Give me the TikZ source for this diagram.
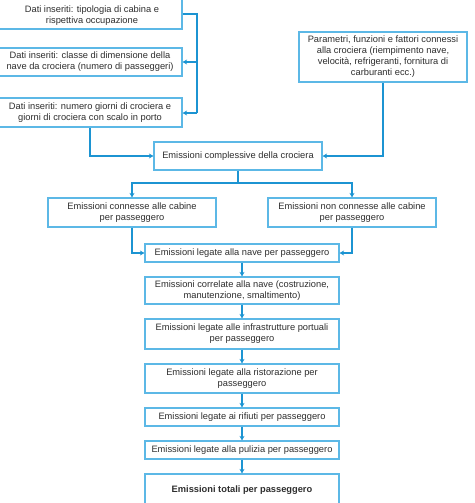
\documentclass[tikz,border=0pt]{standalone}
\usepackage{fontspec}
\setmainfont{Liberation Sans}
\usetikzlibrary{arrows.meta}
\definecolor{boxblue}{HTML}{5CB8E6}
\definecolor{linkblue}{HTML}{1C94D2}
\definecolor{txtgray}{HTML}{2E2E2E}
\tikzset{
  box/.style={draw=boxblue, line width=1.2pt, fill=white, align=center, text=txtgray,
    font=\fontsize{9.3}{11}\selectfont, inner sep=0pt},
  txt/.style={align=center, text=txtgray, font=\fontsize{9.3}{11}\selectfont, inner sep=0pt},
  link/.style={draw=linkblue, line width=2pt},
  arr/.style={link, -{Stealth[length=4.5pt,width=5pt]}},
}
\begin{document}
\begin{tikzpicture}[x=1pt,y=-1pt]
\useasboundingbox (0,0) rectangle (474,503);
\clip (0,0) rectangle (474,503);
% input boxes
\node[box, minimum width=184pt, minimum height=33pt] (b1) at (90,12.5) {};
\node[txt] (b1t) at (92,15.5) {Dati inseriti: tipologia di cabina e\\rispettiva occupazione};
\node[box, minimum width=184pt, minimum height=28pt] (b2) at (90,62) {Dati inseriti: classe di dimensione della\\nave da crociera (numero di passeggeri)};
\node[box, minimum width=184pt, minimum height=29pt] (b3) at (90,112.5) {Dati inseriti: numero giorni di crociera e\\giorni di crociera con scalo in porto};
\node[box, minimum width=168pt, minimum height=50pt] (par) at (383,57) {Parametri, funzioni e fattori connessi\\alla crociera (riempimento nave,\\velocità, refrigeranti, fornitura di\\carburanti ecc.)};
\node[box, minimum width=168pt, minimum height=28pt] (compl) at (238,156) {Emissioni complessive della crociera};
\node[box, minimum width=168pt, minimum height=29pt] (con) at (132,212.5) {Emissioni connesse alle cabine\\per passeggero};
\node[box, minimum width=168pt, minimum height=29pt] (noncon) at (352,212.5) {Emissioni non connesse alle cabine\\per passeggero};
% chain
\node[box, minimum width=194pt, minimum height=18pt] (nave) at (242,253) {Emissioni legate alla nave per passeggero};
\node[box, minimum width=194pt, minimum height=27pt] (corr) at (242,290.5) {Emissioni correlate alla nave (costruzione,\\manutenzione, smaltimento)};
\node[box, minimum width=194pt, minimum height=30pt] (infra) at (242,334) {Emissioni legate alle infrastrutture portuali\\per passeggero};
\node[box, minimum width=194pt, minimum height=29pt] (rist) at (242,378.5) {Emissioni legate alla ristorazione per\\passeggero};
\node[box, minimum width=194pt, minimum height=18pt] (rif) at (242,417) {Emissioni legate ai rifiuti per passeggero};
\node[box, minimum width=194pt, minimum height=18pt] (pul) at (242,450) {Emissioni legate alla pulizia per passeggero};
\node[box, minimum width=194pt, minimum height=32pt] (tot) at (242,490) {\textbf{Emissioni totali per passeggero}};
% connectors
\coordinate (j1) at (197,14);
\coordinate (j2) at (197,113);
\coordinate (h) at (238,183);
\draw[link] (b1.east|-j1) -- (j1) -- (j2);
\draw[arr] (j2) -- (b3.east|-j2);
\draw[arr] (j1|-b2.east) -- (b2.east);
\draw[arr] (b3.south) |- (compl.west);
\draw[arr] (par.south) |- (compl.east);
\draw[link] (compl.south) -- (h);
\draw[arr] (h) -| (con.north);
\draw[arr] (h) -| (noncon.north);
\draw[arr] (con.south) |- (nave.west);
\draw[arr] (noncon.south) |- (nave.east);
\draw[arr] (nave.south) -- (corr.north);
\draw[arr] (corr.south) -- (infra.north);
\draw[arr] (infra.south) -- (rist.north);
\draw[arr] (rist.south) -- (rif.north);
\draw[arr] (rif.south) -- (pul.north);
\draw[arr] (pul.south) -- (tot.north);
\end{tikzpicture}
\end{document}
